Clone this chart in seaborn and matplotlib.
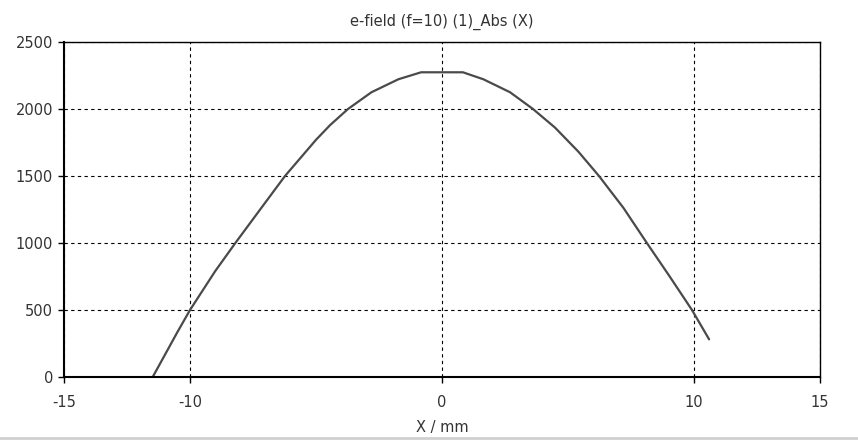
import numpy as np
import pandas as pd
import matplotlib.pyplot as plt
import seaborn as sns
from matplotlib.lines import Line2D

# data
x_mm = [-11.48, -10.5, -10.0, -9.0, -8.2, -7.0, -6.23, -5.0, -4.44, -3.73,
        -2.8, -1.73, -0.83, 0.83, 1.64, 2.7, 3.61, 4.48, 5.41, 6.23,
        7.2, 8.13, 9.0, 9.92, 10.6]
e_abs = [0, 335, 500, 790, 1000, 1305, 1500, 1770, 1880, 2000,
         2125, 2222, 2274, 2274, 2222, 2125, 2000, 1862, 1682, 1500,
         1262, 1000, 760, 500, 281]
x_ticks = [-15, -10, 0, 10, 15]
y_ticks = [0, 500, 1000, 1500, 2000, 2500]

df = pd.DataFrame({'X': x_mm, 'E': e_abs})

sns.set_style('ticks')
plt.rcParams['font.family'] = ['DejaVu Sans']
plt.rcParams['axes.unicode_minus'] = False

fig = plt.figure(figsize=(8.58, 4.41), dpi=100)
ax = fig.add_axes([64/858, 64/441, 756/858, 335/441])

sns.lineplot(data=df, x='X', y='E', ax=ax, color='#4a4a4a', linewidth=1.6,
             sort=False, estimator=None)

ax.set_xlim(-15, 15)
ax.set_ylim(0, 2500)
ax.set_xticks(x_ticks)
ax.set_yticks(y_ticks)
ax.grid(True, color='black', linestyle=(0, (3, 3)), linewidth=0.8)
for s in ax.spines.values():
    s.set_color('black')
    s.set_linewidth(1.0)
ax.spines['bottom'].set_linewidth(1.5)
ax.spines['left'].set_linewidth(1.5)
ax.tick_params(direction='out', length=4, width=1, colors='black',
               labelcolor='#333333', labelsize=10.5, pad=4)
ax.tick_params(axis='x', pad=9)

ax.set_title('e-field (f=10) (1)_Abs (X)', fontsize=10.5, color='#333333', pad=12)
ax.set_xlabel('X / mm', fontsize=10.5, color='#333333', labelpad=7)
ax.set_ylabel('')

# light grey separator at the bottom edge
fig.add_artist(Line2D([0, 1], [3/441, 3/441], color='#d0d0d0', linewidth=2,
                      transform=fig.transFigure))

fig.savefig('out.png', dpi=100)
